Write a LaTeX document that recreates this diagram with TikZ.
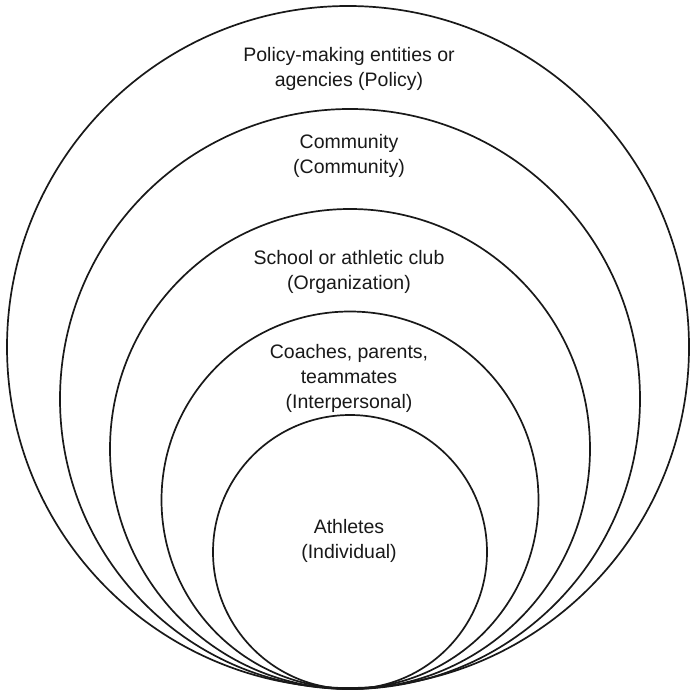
\documentclass[tikz,border=0pt]{standalone}
\usepackage{fontspec}
\setmainfont{Liberation Sans}
\begin{document}
\begin{tikzpicture}[x=1pt,y=-1pt,
  ring/.style={draw=black!90, line width=1.7pt},
  lbl/.style={align=center, font=\fontsize{19.5}{25}\selectfont, text=black!90, inner sep=0pt}]
\useasboundingbox (0,0) rectangle (698,692);
\fill[white] (0,0) rectangle (698,692);
\draw[ring] (348,347) circle (341);
\draw[ring] (350,399) circle (290);
\draw[ring] (350,449) circle (240);
\draw[ring] (350,500) circle (188.5);
\draw[ring] (350,552) circle (137);
\node[lbl] (policy) at (349,69) {Policy-making entities or\\agencies (Policy)};
\node[lbl] (community) at (349,156) {Community\\(Community)};
\node[lbl] (school) at (349,272) {School or athletic club\\(Organization)};
\node[lbl] (inter) at (349,378) {Coaches, parents,\\teammates\\(Interpersonal)};
\node[lbl] (indiv) at (349,541) {Athletes\\(Individual)};
\end{tikzpicture}
\end{document}
